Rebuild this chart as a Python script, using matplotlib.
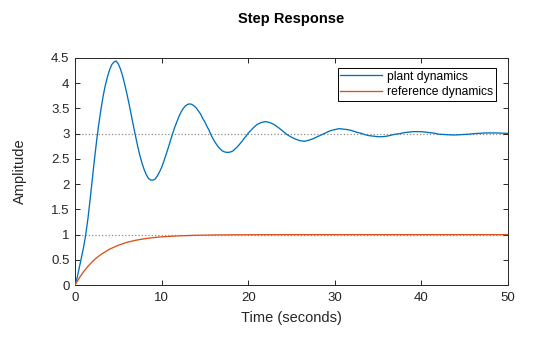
import numpy as np
import matplotlib
matplotlib.use("Agg")
from matplotlib import pyplot as plt

plt.rcParams['font.family'] = ['Liberation Sans', 'DejaVu Sans']

# time grid (seconds): finer while the plant still swings hard
t_plant = np.concatenate([np.arange(0, 20, 0.25), np.arange(20, 50.01, 0.5)])
y_plant = [
    # 0 .. 19.75 s, every 0.25 s
    0.00, 0.15, 0.35, 0.55, 0.76, 1.02, 1.33, 1.71, 2.11, 2.50,
    2.87, 3.20, 3.49, 3.75, 3.96, 4.13, 4.27, 4.37, 4.42, 4.44,
    4.38, 4.28, 4.14, 3.97, 3.78, 3.58, 3.36, 3.15, 2.94, 2.74,
    2.56, 2.41, 2.28, 2.18, 2.11, 2.08, 2.08, 2.10, 2.16, 2.24,
    2.33, 2.45, 2.58, 2.71, 2.85, 2.99, 3.12, 3.23, 3.34, 3.43,
    3.50, 3.55, 3.58, 3.59, 3.58, 3.55, 3.51, 3.45, 3.39, 3.30,
    3.23, 3.14, 3.06, 2.96, 2.88, 2.81, 2.75, 2.70, 2.66, 2.64,
    2.63, 2.63, 2.64, 2.66, 2.70, 2.74, 2.79, 2.84, 2.90, 2.95,
    # 20 .. 50 s, every 0.5 s
    3.01, 3.10, 3.18, 3.22, 3.24, 3.22, 3.18, 3.12, 3.05, 2.98,
    2.93, 2.89, 2.86, 2.85, 2.87, 2.90, 2.94, 2.98, 3.02, 3.06,
    3.08, 3.10, 3.09, 3.08, 3.06, 3.03, 3.01, 2.98, 2.96, 2.95,
    2.94, 2.94, 2.95, 2.97, 2.99, 3.00, 3.02, 3.03, 3.04, 3.04,
    3.04, 3.03, 3.02, 3.01, 2.99, 2.985, 2.98, 2.975, 2.975, 2.98,
    2.985, 2.99, 3.00, 3.005, 3.01, 3.015, 3.016, 3.015, 3.013, 3.009,
    3.004,
]

t_ref = [0, 0.5, 1, 1.5, 2, 2.5, 3, 4, 5, 6, 7, 8, 9, 10, 12, 14, 16, 18, 20, 25, 30, 50]
y_ref = [0, 0.145, 0.268, 0.374, 0.465, 0.542, 0.608, 0.713, 0.790, 0.847, 0.888,
         0.918, 0.940, 0.956, 0.976, 0.987, 0.993, 0.996, 0.998, 0.9996, 1.0, 1.0]

final_values = [3, 1]
series_names = ['plant dynamics', 'reference dynamics']

x_ticks = [0, 10, 20, 30, 40, 50]
y_ticks = [0, 0.5, 1, 1.5, 2, 2.5, 3, 3.5, 4, 4.5]
y_ticklabels = ['0', '0.5', '1', '1.5', '2', '2.5', '3', '3.5', '4', '4.5']

dark = '#262626'

fig = plt.figure(figsize=(5.6, 3.37), dpi=100)
ax = fig.add_axes([0.134, 0.154, 0.773, 0.674])

for v in final_values:
    ax.axhline(v, color='#8c8c8c', ls=':', lw=0.9, zorder=1)

ax.plot(t_plant, y_plant, color='#0072BD', lw=0.95, label=series_names[0], zorder=3)
ax.plot(t_ref, y_ref, color='#D95319', lw=0.95, label=series_names[1], zorder=3)

ax.set_xlim(0, 50)
ax.set_ylim(0, 4.5)
ax.set_xticks(x_ticks)
ax.set_yticks(y_ticks)
ax.set_yticklabels(y_ticklabels)
ax.tick_params(direction='in', top=True, right=True, length=3.5, width=0.7,
               labelsize=9.5, colors=dark)
ax.tick_params(axis='x', pad=5)
ax.tick_params(axis='y', pad=4)
for s in ax.spines.values():
    s.set_color(dark)
    s.set_linewidth(0.7)

ax.set_title('Step Response', fontsize=10.5, fontweight='bold', color='black', pad=25)
ax.set_xlabel('Time (seconds)', fontsize=10.5, color=dark, labelpad=5)
ax.set_ylabel('Amplitude', fontsize=10.5, color=dark, labelpad=17)

leg = ax.legend(loc='upper right', fontsize=8.7, fancybox=False, framealpha=1,
                edgecolor='black', handlelength=3.5, borderpad=0.2,
                labelspacing=0.3, handletextpad=0.4, borderaxespad=0.0,
                bbox_to_anchor=(0.972, 0.955))
leg.get_frame().set_linewidth(0.7)

fig.savefig('out.png', dpi=100)
